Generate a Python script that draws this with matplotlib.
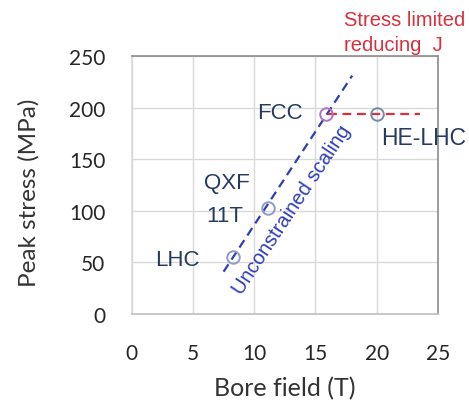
import matplotlib.pyplot as plt

# magnet data: bore field (T) vs peak stress (MPa)
magnets = ["LHC", "11T", "FCC", "HE-LHC"]
bore_field = [8.3, 11.1, 15.9, 20.0]
peak_stress = [55, 103, 194, 194]
marker_colors = ["#8C9CCB", "#8C9CCB", "#B46FC4", "#7A88A8"]

# unconstrained scaling trend and the stress-limited plateau
scaling_field = [7.5, 18.0]
scaling_stress = [41, 231]
limited_field = [16.0, 23.5]
limited_stress = [194, 194]

x_ticks = [0, 5, 10, 15, 20, 25]
y_ticks = [0, 50, 100, 150, 200, 250]

label_font = "Lato"
note_font = "Liberation Sans"
navy = "#253A5E"

fig = plt.figure(figsize=(4.69, 4.06), dpi=100)
ax = fig.add_axes([0.2808, 0.2241, 0.653, 0.6355])

ax.set_xlim(0, 25)
ax.set_ylim(0, 250)
ax.set_xticks(x_ticks)
ax.set_yticks(y_ticks)
ax.grid(True, color="#D9D9D9", linewidth=1.0)
ax.set_axisbelow(True)
ax.tick_params(length=0, labelsize=15, labelcolor="#262626")
ax.tick_params(axis="y", pad=19)
ax.tick_params(axis="x", pad=21)
for lbl in ax.get_xticklabels() + ax.get_yticklabels():
    lbl.set_fontfamily(label_font)

ax.spines["top"].set_color("#8C8C8C")
ax.spines["right"].set_color("#8C8C8C")
ax.spines["bottom"].set_color("#BFBFBF")
ax.spines["left"].set_color("#D9D9D9")
for s in ax.spines.values():
    s.set_linewidth(1.2)

ax.set_xlabel("Bore field (T)", fontsize=18, family=label_font,
              color="#333333", labelpad=9)
ax.set_ylabel("Peak stress (MPa)", fontsize=17.5, family=label_font,
              color="#333333")
ax.yaxis.set_label_coords(-0.30, 0.475)

ax.plot(scaling_field, scaling_stress, linestyle=(0, (4, 2.5)),
        color="#2F3DB8", linewidth=1.6, zorder=3)
ax.plot(limited_field, limited_stress, linestyle=(0, (4, 2.5)),
        color="#D8303C", linewidth=1.6, zorder=3)

for x, y, c in zip(bore_field, peak_stress, marker_colors):
    ax.plot(x, y, marker="o", markersize=9, markerfacecolor="none",
            markeredgecolor=c, markeredgewidth=1.4, zorder=4)

ax.text(10.2, 195, "FCC", fontsize=16, family=note_font, color=navy,
        va="center", ha="left")
ax.text(20.4, 171, "HE-LHC", fontsize=16.5, family=note_font, color=navy,
        va="center", ha="left", clip_on=False)
ax.text(5.9, 127, "QXF", fontsize=16, family=note_font, color=navy,
        va="center", ha="left")
ax.text(6.1, 95, "11T", fontsize=16, family=note_font, color=navy,
        va="center", ha="left")
ax.text(1.9, 53, "LHC", fontsize=16, family=note_font, color=navy,
        va="center", ha="left")
ax.text(13.1, 102, "Unconstrained scaling", fontsize=14.5, family=note_font,
        color="#2F3DB8", rotation=56.5, rotation_mode="anchor",
        va="center", ha="center")
ax.text(17.3, 252, "Stress limited\nreducing  J", fontsize=14.5,
        family=note_font, color="#D8303C", va="bottom", ha="left",
        linespacing=1.4, clip_on=False)

fig.savefig("out.png", dpi=100)
